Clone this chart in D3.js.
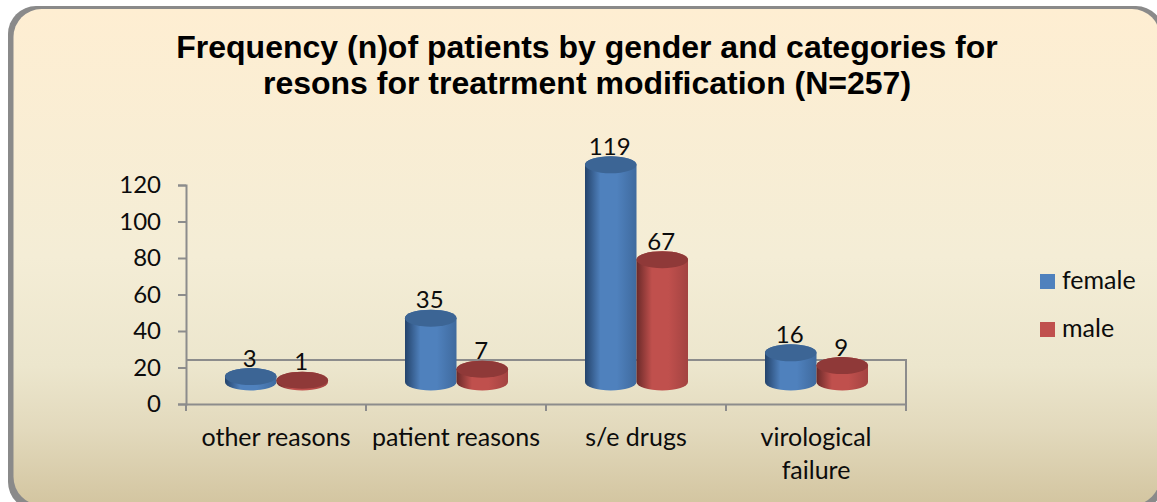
<!DOCTYPE html>
<html>
<head>
<meta charset="utf-8">
<script src="https://cdnjs.cloudflare.com/ajax/libs/d3/7.8.5/d3.min.js"></script>
<style>
  html, body { margin: 0; padding: 0; background: #fff; overflow: hidden; }
  svg { display: block; }
  text { fill: #0c0c0c; font-family: Lato, sans-serif; font-size: 25px; }
  .num text, text.num { font-size: 24px; }
  .title { font-family: "Liberation Sans", Arial, sans-serif; font-weight: bold; font-size: 32px; fill: #000; }
  .axis path, .axis line, .frame { stroke: #8c8c8c; stroke-width: 2; fill: none; }
</style>
</head>
<body>
<svg width="1157" height="502"></svg>
<script>
let categories = ["other reasons", "patient reasons", "s/e drugs", "virological failure"];
let seriesNames = ["female", "male"];
let femaleValues = [3, 35, 119, 16];
let maleValues = [1, 7, 67, 9];
let yTicks = [0, 20, 40, 60, 80, 100, 120];
let titleLines = ["Frequency (n)of patients by gender and categories for", "resons for treatrment modification (N=257)"];

let seriesValues = [femaleValues, maleValues];
let colors = [
    {dark: "#24436b", mid: "#4f81bd", edge: "#3f6a9e", top: "#3c6595"},
    {dark: "#6b2a29", mid: "#c0504d", edge: "#a34341", top: "#8f3938"}
];

var svg = d3.select("svg"),
    width = +svg.attr("width"),
    height = +svg.attr("height");

let defs = svg.append("defs");

// panel background
let bg = defs.append("linearGradient").attr("id", "bg")
    .attr("x1", 0).attr("y1", 0).attr("x2", 0).attr("y2", 1);
[[0, "#feeed2"], [0.5, "#f4edd6"], [0.72, "#ece6cd"], [0.85, "#e2d9bc"], [1, "#d3c5a0"]].forEach(function(s){
    bg.append("stop").attr("offset", s[0]).attr("stop-color", s[1]);
});

svg.append("rect").attr("x", 8).attr("y", 6).attr("width", 1156).attr("height", 504).attr("rx", 28).attr("fill", "#8a8a8a");
svg.append("rect").attr("x", 13.5).attr("y", 9).attr("width", 1146.5).attr("height", 496).attr("rx", 28).attr("fill", "url(#bg)");

// title
svg.selectAll(".title").data(titleLines).enter().append("text")
    .attr("class", "title")
    .attr("x", 587)
    .attr("y", function(d, i){ return 57.5 + i * 36.5; })
    .attr("text-anchor", "middle")
    .text(function(d){ return d; });

// scales
let x = d3.scaleBand().domain(categories).range([186, 906]);
let y = d3.scaleLinear().domain([0, 120]).range([404, 185]);
let barWidth = 51.5;
let xSeries = d3.scaleBand().domain(seriesNames).range([-barWidth, barWidth]);
let baseOffset = 22;   // cylinders stand in the middle of the floor
let ry = 8.5;

// floor outline behind the cylinders
let floorTop = y(0) - 44;
svg.append("path").attr("class", "frame")
    .attr("d", "M" + x.range()[0] + "," + floorTop + "H" + x.range()[1] + "V" + y(0));

// axes
let yAxis = d3.axisLeft(y).tickValues(yTicks).tickSize(8).tickPadding(17);
let gy = svg.append("g").attr("class", "axis num").attr("transform", "translate(186,0)").call(yAxis);
gy.selectAll("text").attr("dy", "0.33em");

let xAxis = d3.axisBottom(x).tickSize(0).tickPadding(0);
let gx = svg.append("g").attr("class", "axis").attr("transform", "translate(0," + y(0) + ")").call(xAxis);
gx.selectAll("text").remove();
gx.selectAll(".tick").append("text")
    .attr("text-anchor", "middle")
    .selectAll("tspan")
    .data(function(d){ return d === "virological failure" ? ["virological", "failure"] : [d]; })
    .enter().append("tspan")
    .attr("x", 0)
    .attr("y", function(d, i){ return 41.5 + i * 33; })
    .text(function(d){ return d; });

// ticks sit on the band boundaries
gx.selectAll(".edge").data(categories.concat(["end"])).enter().append("line")
    .attr("class", "edge")
    .attr("x1", function(d){ return d === "end" ? x.range()[1] : x(d); })
    .attr("x2", function(d){ return d === "end" ? x.range()[1] : x(d); })
    .attr("y1", 0).attr("y2", 7);

// gradients for the cylinder sides
colors.forEach(function(c, i){
    let g = defs.append("linearGradient").attr("id", "side" + i);
    [[0, c.dark], [0.3, c.mid], [0.62, c.mid], [1, c.edge]].forEach(function(s){
        g.append("stop").attr("offset", s[0]).attr("stop-color", s[1]);
    });
});

function cylinderPath(cx, v){
    let rx = barWidth / 2;
    let base = y(0) - baseOffset;
    let top = base - (y(0) - y(v));
    return "M" + (cx - rx) + "," + top +
        "V" + base +
        "A" + rx + "," + ry + " 0 0 0 " + (cx + rx) + "," + base +
        "V" + top +
        "A" + rx + "," + ry + " 0 0 0 " + (cx - rx) + "," + top + "Z";
}

seriesNames.forEach(function(name, si){
    let g = svg.append("g").attr("class", "series-" + name);
    let rows = categories.map(function(c, i){
        return {cat: c, value: seriesValues[si][i], cx: x(c) + x.bandwidth() / 2 + xSeries(name) + xSeries.bandwidth() / 2 + 0.5};
    });
    g.selectAll("path").data(rows).enter().append("path")
        .attr("d", function(d){ return cylinderPath(d.cx, d.value); })
        .attr("fill", "url(#side" + si + ")");
    g.selectAll("ellipse").data(rows).enter().append("ellipse")
        .attr("cx", function(d){ return d.cx; })
        .attr("cy", function(d){ return y(d.value) - baseOffset; })
        .attr("rx", barWidth / 2)
        .attr("ry", ry)
        .attr("fill", colors[si].top);
    g.selectAll("text").data(rows).enter().append("text")
        .attr("class", "num")
        .attr("x", function(d){ return d.cx - 1; })
        .attr("y", function(d){ return y(d.value) - baseOffset - ry - 1.5; })
        .attr("text-anchor", "middle")
        .text(function(d){ return d.value; });
});

// legend
let legend = svg.selectAll(".legend").data(seriesNames).enter().append("g")
    .attr("class", "legend")
    .attr("transform", function(d, i){ return "translate(1040," + (274 + i * 48) + ")"; });
legend.append("rect").attr("width", 15).attr("height", 15)
    .attr("fill", function(d, i){ return colors[i].mid; });
legend.append("text").attr("x", 22).attr("y", 15).text(function(d){ return d; });
</script>
</body>
</html>
